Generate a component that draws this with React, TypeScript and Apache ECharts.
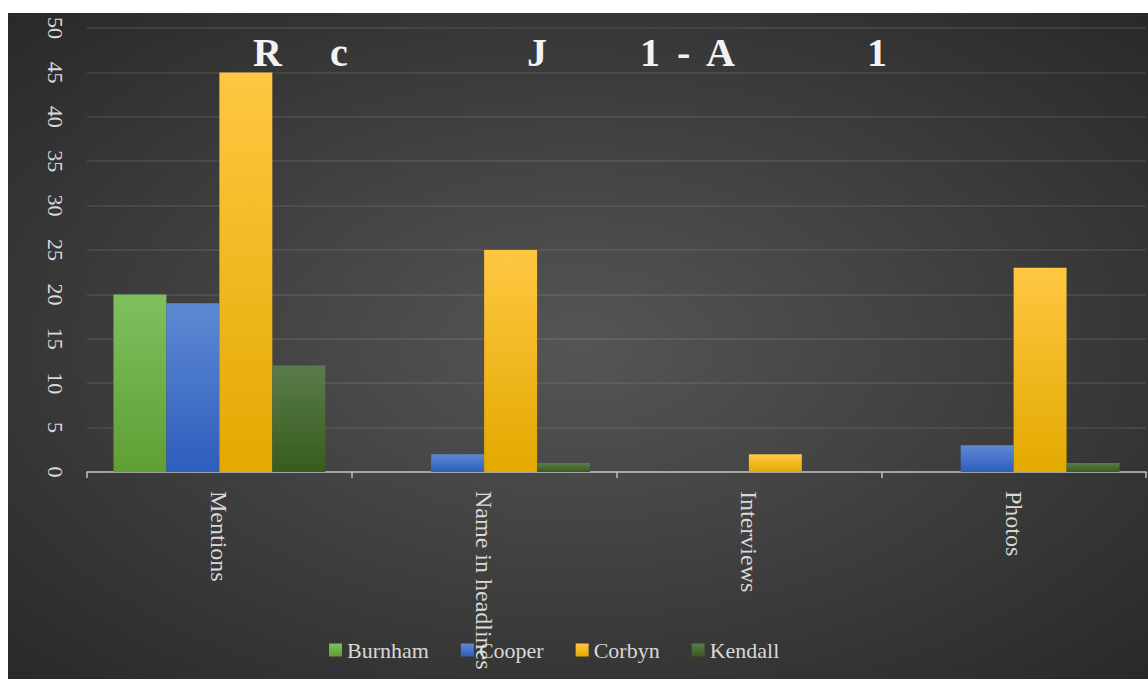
import React, { useEffect, useRef } from "react";
import * as echarts from "echarts";

const categories = ["Mentions", "Name in headlines", "Interviews", "Photos"];
const burnham = [20, 0, 0, 0];
const cooper = [19, 2, 0, 3];
const corbyn = [45, 25, 2, 23];
const kendall = [12, 1, 0, 1];
const seriesNames = ["Burnham", "Cooper", "Corbyn", "Kendall"];
const titleParts = ["R", "c", "J", "1", "-", "A", "1"];

const FONT = "Liberation Serif, Times New Roman, serif";

function grad(top: string, bottom: string) {
  return new echarts.graphic.LinearGradient(0, 0, 0, 1, [
    { offset: 0, color: top },
    { offset: 1, color: bottom },
  ]);
}

export default function App() {
  const ref = useRef<HTMLDivElement>(null);
  useEffect(() => {
    if (!ref.current) return;
    const chart = echarts.init(ref.current, undefined, { renderer: "svg" });
    const titleX = [245, 322, 519, 632, 669, 698, 859];
    const legendColors = [
      grad("#80bf5e", "#5f9f34"),
      grad("#5d89d3", "#2e5ebd"),
      grad("#ffc742", "#e3a900"),
      grad("#5a7c4c", "#375c1c"),
    ];
    const data = [burnham, cooper, corbyn, kendall];
    chart.setOption({
      animation: false,
      backgroundColor: new echarts.graphic.RadialGradient(0.5, 0.5, 0.75, [
        { offset: 0, color: "#555555" },
        { offset: 1, color: "#262626" },
      ]),
      graphic: titleParts.map((t, i) => ({
        type: "text",
        left: titleX[i],
        top: 19,
        z: 100,
        style: {
          text: t,
          fill: "#f2f2f2",
          fontFamily: FONT,
          fontWeight: "bold",
          fontSize: 40,
        },
      })),
      grid: { left: 79, right: 2, top: 15, bottom: 207, containLabel: false },
      legend: {
        data: seriesNames,
        left: 316,
        top: 621,
        itemWidth: 13,
        itemHeight: 13,
        itemGap: 32,
        icon: "rect",
        textStyle: { color: "#d9d9d9", fontFamily: FONT, fontSize: 22, padding: [0, 0, 0, 0] },
      },
      xAxis: {
        type: "category",
        data: categories,
        axisLine: { lineStyle: { color: "#bfbfbf", width: 1.5 } },
        axisTick: { show: true, length: 6, lineStyle: { color: "#bfbfbf", width: 1.5 } },
        axisLabel: {
          rotate: -90,
          margin: 19,
          color: "#d9d9d9",
          fontFamily: FONT,
          fontSize: 24,
        },
        splitLine: { show: false },
      },
      yAxis: {
        type: "value",
        min: 0,
        max: 50,
        interval: 5,
        axisLine: { show: false },
        axisTick: { show: false },
        axisLabel: {
          rotate: -90,
          margin: 21,
          color: "#d9d9d9",
          fontFamily: FONT,
          fontSize: 22,
        },
        splitLine: { lineStyle: { color: "rgba(217,217,217,0.13)", width: 1.5 } },
      },
      series: seriesNames.map((name, i) => ({
        name,
        type: "bar",
        data: data[i],
        barGap: "0%",
        barCategoryGap: "20%",
        itemStyle: { color: legendColors[i] },
      })),
    });
    return () => chart.dispose();
  }, []);
  return (
    <div
      ref={ref}
      style={{ position: "absolute", left: 8, top: 13, width: 1140, height: 666 }}
    />
  );
}
